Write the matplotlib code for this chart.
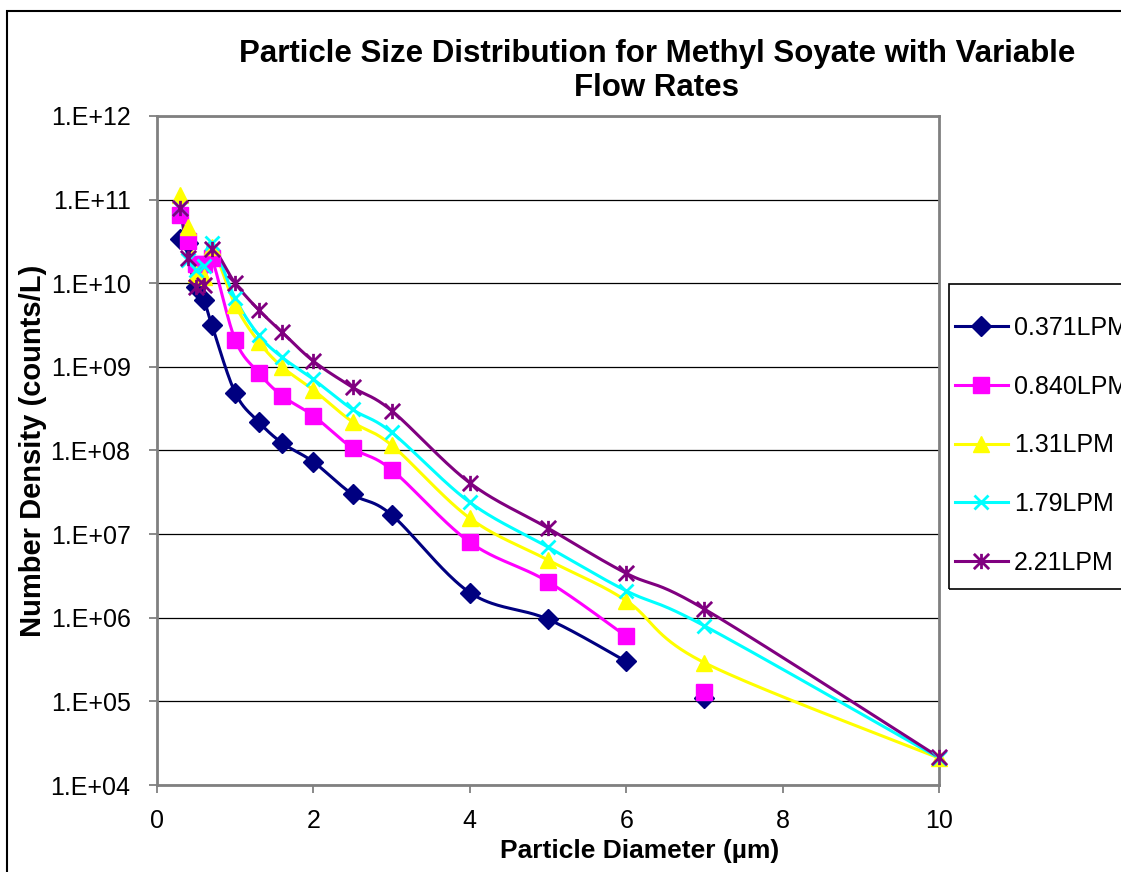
import numpy as np
import matplotlib
matplotlib.use("Agg")
import matplotlib.pyplot as plt
from matplotlib.lines import Line2D
from matplotlib.patches import Rectangle
from matplotlib.path import Path

nan = float("nan")

# Particle diameters (µm) of the counter channels
diameter = [0.3, 0.4, 0.5, 0.6, 0.7, 1.0, 1.3, 1.6, 2.0, 2.5, 3.0, 4.0, 5.0, 6.0, 7.0, 10.0]

# Number density (counts/L) for each flow rate
lpm_0371 = [3.4e10, 3.0e10, 9.0e9, 6.3e9, 3.2e9, 4.9e8, 2.2e8, 1.23e8, 7.3e7, 3.0e7, 1.7e7,
            2.0e6, 9.6e5, 3.0e5, 1.1e5, nan]
lpm_0840 = [6.5e10, 3.2e10, 1.7e10, 1.7e10, 2.0e10, 2.1e9, 8.5e8, 4.5e8, 2.6e8, 1.07e8, 5.9e7,
            8.0e6, 2.7e6, 6.0e5, 1.3e5, nan]
lpm_131 = [1.13e11, 4.7e10, 1.3e10, 1.2e10, 2.7e10, 5.5e9, 2.0e9, 1.0e9, 5.3e8, 2.2e8, 1.16e8,
           1.55e7, 4.9e6, 1.6e6, 2.9e5, 2.1e4]
lpm_179 = [8.0e10, 1.9e10, 1.45e10, 1.6e10, 3.0e10, 6.6e9, 2.4e9, 1.3e9, 7.1e8, 3.1e8, 1.65e8,
           2.4e7, 7.0e6, 2.1e6, 8.0e5, 2.1e4]
lpm_221 = [7.9e10, 2.0e10, 8.9e9, 9.5e9, 2.6e10, 1.0e10, 4.8e9, 2.6e9, 1.17e9, 5.7e8, 3.0e8,
           4.1e7, 1.18e7, 3.4e6, 1.27e6, 2.15e4]

labels = ["0.371LPM", "0.840LPM", "1.31LPM", "1.79LPM", "2.21LPM"]
series = [lpm_0371, lpm_0840, lpm_131, lpm_179, lpm_221]
# last diameter joined by the connecting line for each series
line_end = [6.0, 6.0, 10.0, 10.0, 10.0]

y_ticks = [1e4, 1e5, 1e6, 1e7, 1e8, 1e9, 1e10, 1e11, 1e12]
y_tick_labels = ["1.E+04", "1.E+05", "1.E+06", "1.E+07", "1.E+08",
                 "1.E+09", "1.E+10", "1.E+11", "1.E+12"]
x_ticks = [0, 2, 4, 6, 8, 10]

colors = ["#000080", "#FF00FF", "#FFFF00", "#00FFFF", "#800080"]

# six-armed star: vertical bar plus an X
star_path = Path([(0, -1), (0, 1), (-1, -1), (1, 1), (-1, 1), (1, -1)],
                 [Path.MOVETO, Path.LINETO, Path.MOVETO, Path.LINETO,
                  Path.MOVETO, Path.LINETO])
markers = [dict(marker="D", ms=10, mfc=colors[0], mec=colors[0], mew=1),
           dict(marker="s", ms=11, mfc=colors[1], mec=colors[1], mew=1),
           dict(marker="^", ms=12, mfc=colors[2], mec=colors[2], mew=1),
           dict(marker="x", ms=10, mfc="none", mec=colors[3], mew=2),
           dict(marker=star_path, ms=11, mfc="none", mec=colors[4], mew=2)]

plt.rcParams["font.family"] = ["Liberation Sans", "DejaVu Sans"]


def smooth(xs, ys, n=40):
    """Catmull-Rom style Bezier smoothing in (x, log10 y) space."""
    px = np.asarray(xs, float)
    py = np.log10(np.asarray(ys, float))
    if len(px) < 2:
        return px, 10 ** py
    ox, oy = [], []
    t = np.linspace(0, 1, n)
    m = len(px)
    for i in range(m - 1):
        i0 = max(i - 1, 0)
        i3 = min(i + 2, m - 1)
        p0 = np.array([px[i], py[i]])
        p3 = np.array([px[i + 1], py[i + 1]])
        c1 = p0 + (np.array([px[i + 1], py[i + 1]]) - np.array([px[i0], py[i0]])) / 6
        c2 = p3 - (np.array([px[i3], py[i3]]) - np.array([px[i], py[i]])) / 6
        b = ((1 - t) ** 3)[:, None] * p0 + (3 * (1 - t) ** 2 * t)[:, None] * c1 \
            + (3 * (1 - t) * t ** 2)[:, None] * c2 + (t ** 3)[:, None] * p3
        ox.extend(b[:, 0])
        oy.extend(b[:, 1])
    return np.array(ox), 10 ** np.array(oy)


W, H = 1121, 872
fig = plt.figure(figsize=(W / 100, H / 100), dpi=100)
fig.patch.set_facecolor("white")

# outer chart border
fig.patches.append(Rectangle((7 / W, -0.05), 1.5, 1 - 11 / H + 0.05,
                             transform=fig.transFigure, fill=False,
                             ec="black", lw=1.5, zorder=0))

ax = fig.add_axes([157 / W, 1 - 785 / H, (939 - 157) / W, (785 - 116) / H])
ax.set_yscale("log")
ax.set_xlim(0, 10)
ax.set_ylim(1e4, 1e12)
ax.set_yticks(y_ticks)
ax.set_yticklabels(y_tick_labels)
ax.yaxis.set_minor_locator(matplotlib.ticker.NullLocator())
ax.set_xticks(x_ticks)
ax.set_xticklabels([str(v) for v in x_ticks])
ax.tick_params(axis="both", direction="out", length=6, width=1.3, color="#808080",
               labelsize=18, labelcolor="black")
ax.tick_params(axis="y", pad=13)
ax.tick_params(axis="x", pad=11)
for sp in ax.spines.values():
    sp.set_color("#808080")
    sp.set_linewidth(2)
ax.grid(axis="y", color="black", lw=0.9, zorder=1)
ax.set_axisbelow(True)

dia = np.asarray(diameter)
for vals, col, mk, end in zip(series, colors, markers, line_end):
    v = np.asarray(vals, float)
    ok = np.isfinite(v)
    joined = ok & (dia <= end)
    sx, sy = smooth(dia[joined], v[joined])
    ax.plot(sx, sy, color=col, lw=2.2, zorder=3, clip_on=False)
    ax.plot(dia[ok], v[ok], ls="none", zorder=4, clip_on=False, **mk)

fig.text(657 / W, 1 - 71 / H,
         "Particle Size Distribution for Methyl Soyate with Variable\nFlow Rates",
         ha="center", va="center", fontsize=22.5, fontweight="bold", linespacing=1.2)
fig.text(640 / W, 1 - 851 / H, "Particle Diameter (µm)", ha="center", va="center",
         fontsize=19, fontweight="bold")
fig.text(33 / W, 1 - 451 / H, "Number Density (counts/L)", ha="center", va="center",
         rotation=90, fontsize=21, fontweight="bold")

# legend
fig.patches.append(Rectangle((949 / W, 1 - 589 / H), 0.5, (589 - 284) / H,
                             transform=fig.transFigure, fill=False,
                             ec="black", lw=1.2, zorder=5))
handles = [Line2D([0], [0], color=c, lw=2.2, **mk) for c, mk in zip(colors, markers)]
fig.legend(handles, labels, loc="upper left", bbox_to_anchor=(955 / W, 1 - 316 / H),
           frameon=False, fontsize=18, handlelength=2.1, handletextpad=0.25,
           labelspacing=1.39, borderpad=0, borderaxespad=0)

fig.savefig("out.png", dpi=100)
